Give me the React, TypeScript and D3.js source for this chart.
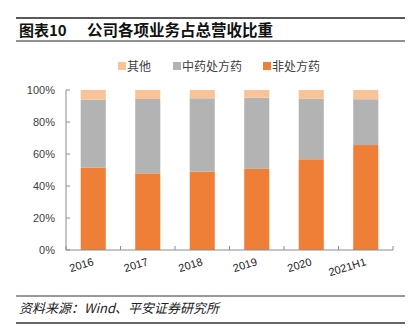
import React from "react";
import * as d3 from "d3";

const categories = ["2016", "2017", "2018", "2019", "2020", "2021H1"];
const otcValues = [51.4, 47.9, 48.9, 50.7, 56.7, 65.6]; // 非处方药
const tcmValues = [42.5, 46.5, 45.9, 44.5, 37.9, 28.6]; // 中药处方药
const otherValues = categories.map((_, i) => 100 - otcValues[i] - tcmValues[i]); // 其他
const yTicks = [0, 20, 40, 60, 80, 100];
const seriesNames = ["其他", "中药处方药", "非处方药"];
const seriesColors = ["#F9C398", "#B3B3B3", "#EF7F37"];

const W = 412;
const H = 333;
const plot = { left: 66, right: 393, top: 90, bottom: 250 };
const cjk = "'Noto Sans CJK SC', 'Liberation Sans', sans-serif";
const latin = "'Liberation Sans', Arial, sans-serif";

export default function App() {
  const x = d3.scaleBand<string>().domain(categories).range([plot.left, plot.right]).paddingInner(0.54).paddingOuter(0.27);
  const y = d3.scaleLinear().domain([0, 100]).range([plot.bottom, plot.top]);
  const stackData = categories.map((c, i) => ({ c, otc: otcValues[i], tcm: tcmValues[i], other: otherValues[i] }));
  const stack = d3.stack<any>().keys(["otc", "tcm", "other"])(stackData);
  const colorByKey: Record<string, string> = { otc: seriesColors[2], tcm: seriesColors[1], other: seriesColors[0] };
  const step = (plot.right - plot.left) / categories.length;
  const boundaries = d3.range(categories.length + 1).map((i) => plot.left + i * step);

  const legendItems = [
    { name: seriesNames[0], color: seriesColors[0], x: 118 },
    { name: seriesNames[1], color: seriesColors[1], x: 173 },
    { name: seriesNames[2], color: seriesColors[2], x: 263 },
  ];

  return (
    <svg width={W} height={H} style={{ position: "absolute", left: 0, top: 0, background: "#fff" }}>
      {/* header */}
      <line x1={16} x2={405} y1={18} y2={18} stroke="#222" strokeWidth={1.3} />
      <text x={19} y={35.5} fontFamily={cjk} fontWeight="bold" fontSize={15} fill="#111">
        图表10
      </text>
      <text x={87} y={35.5} fontFamily={cjk} fontWeight="bold" fontSize={15.5} fill="#111">
        公司各项业务占总营收比重
      </text>
      <line x1={16} x2={405} y1={41} y2={41} stroke="#222" strokeWidth={1} />

      {/* legend */}
      {legendItems.map((it) => (
        <g key={it.name}>
          <rect x={it.x} y={62} width={8} height={8} fill={it.color} />
          <text x={it.x + 9} y={70.5} fontFamily={cjk} fontSize={12} fill="#404040">
            {it.name}
          </text>
        </g>
      ))}

      {/* bars */}
      {stack.map((s) => (
        <g key={s.key} fill={colorByKey[s.key]}>
          {s.map((d: any, i: number) => (
            <rect
              key={i}
              x={x(categories[i])}
              y={y(d[1])}
              width={x.bandwidth()}
              height={y(d[0]) - y(d[1])}
            />
          ))}
        </g>
      ))}

      {/* y axis */}
      <line x1={plot.left} x2={plot.left} y1={plot.top} y2={plot.bottom} stroke="#8c8c8c" strokeWidth={1} />
      {yTicks.map((t) => (
        <g key={t}>
          <line x1={plot.left} x2={plot.left + 4} y1={y(t)} y2={y(t)} stroke="#8c8c8c" />
          <text x={55} y={y(t) + 4} textAnchor="end" fontFamily={latin} fontSize={11} fill="#404040">
            {t}%
          </text>
        </g>
      ))}

      {/* x axis */}
      <line x1={plot.left} x2={plot.right} y1={plot.bottom} y2={plot.bottom} stroke="#8c8c8c" strokeWidth={1} />
      {boundaries.map((b, i) => (
        <line key={i} x1={b} x2={b} y1={plot.bottom} y2={plot.bottom - 4} stroke="#8c8c8c" />
      ))}
      {categories.map((c) => {
        const cx = (x(c) as number) + x.bandwidth() / 2 + 1;
        const cy = 265;
        return (
          <text
            key={c}
            x={cx}
            y={cy}
            textAnchor="end"
            transform={`rotate(-17, ${cx}, ${cy})`}
            fontFamily={latin}
            fontSize={11}
            fill="#222"
          >
            {c}
          </text>
        );
      })}

      {/* footer */}
      <line x1={16} x2={405} y1={296} y2={296} stroke="#333" strokeWidth={1} />
      <text x={19} y={313} fontFamily={cjk} fontStyle="italic" fontSize={13} fill="#222">
        资料来源：Wind、平安证券研究所
      </text>
      <line x1={16} x2={405} y1={323} y2={323} stroke="#333" strokeWidth={1.5} />
    </svg>
  );
}
